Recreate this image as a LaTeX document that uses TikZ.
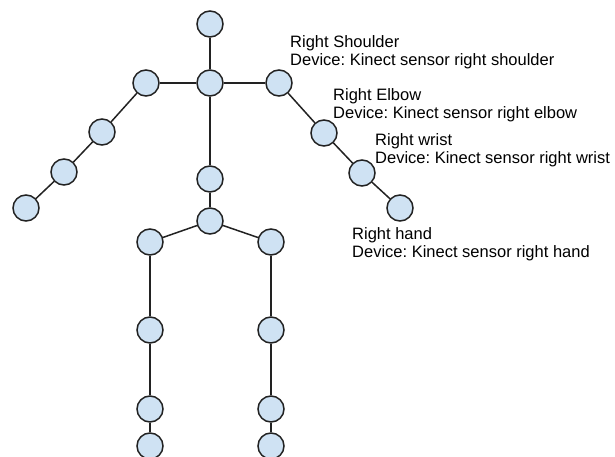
\documentclass[tikz,border=0pt]{standalone}
\usepackage{fontspec}
\setmainfont{Liberation Sans}
\definecolor{jointfill}{HTML}{CFE2F3}
\definecolor{bone}{HTML}{222222}
\frenchspacing
\begin{document}
\begin{tikzpicture}[x=1pt,y=-1pt,
  joint/.style={circle,draw=bone,fill=jointfill,line width=1.5pt,minimum size=26pt,inner sep=0pt},
  link/.style={draw=bone,line width=1.5pt},
  label/.style={anchor=north west,inner sep=0pt,align=left,font=\fontsize{16.5}{18.3}\selectfont}]
\useasboundingbox (0,0) rectangle (615,457);
% upper body
\node[joint] (head)  at (210,24) {};
\node[joint] (neck)  at (210,83) {};
\node[joint] (lsh)   at (146,83) {};
\node[joint] (rsh)   at (279,83) {};
\node[joint] (lel)   at (102,132) {};
\node[joint] (lwr)   at (64,172) {};
\node[joint] (lha)   at (26,208) {};
\node[joint] (rel)   at (324,133) {};
\node[joint] (rwr)   at (362,173) {};
\node[joint] (rha)   at (400,208) {};
\node[joint] (spine) at (210,179) {};
\node[joint] (hip)   at (210,221) {};
% legs
\node[joint] (lhip)  at (150,242) {};
\node[joint] (rhip)  at (271,242) {};
\node[joint] (lkn)   at (150,330) {};
\node[joint] (rkn)   at (271,330) {};
\node[joint] (lan)   at (150,409) {};
\node[joint] (ran)   at (271,409) {};
\node[joint] (lft)   at (150,446) {};
\node[joint] (rft)   at (271,446) {};
% bones
\draw[link] (head) -- (neck);
\draw[link] (neck) -- (lsh);
\draw[link] (neck) -- (rsh);
\draw[link] (lsh) -- (lel);
\draw[link] (lel) -- (lwr);
\draw[link] (lwr) -- (lha);
\draw[link] (rsh) -- (rel);
\draw[link] (rel) -- (rwr);
\draw[link] (rwr) -- (rha);
\draw[link] (neck) -- (spine);
\draw[link] (spine) -- (hip);
\draw[link] (hip) -- (lhip);
\draw[link] (hip) -- (rhip);
\draw[link] (lhip) -- (lkn);
\draw[link] (lkn) -- (lan);
\draw[link] (lan) -- (lft);
\draw[link] (rhip) -- (rkn);
\draw[link] (rkn) -- (ran);
\draw[link] (ran) -- (rft);
% annotations
\node[label] (tsh) at (290,35)  {Right Shoulder\\Device: Kinect sensor right shoulder};
\node[label] (tel) at (333,88)  {Right Elbow\\Device: Kinect sensor right elbow};
\node[label] (twr) at (375,133) {Right wrist\\Device: Kinect sensor right wrist};
\node[label] (tha) at (352,227) {Right hand\\Device: Kinect sensor right hand};
\end{tikzpicture}
\end{document}
